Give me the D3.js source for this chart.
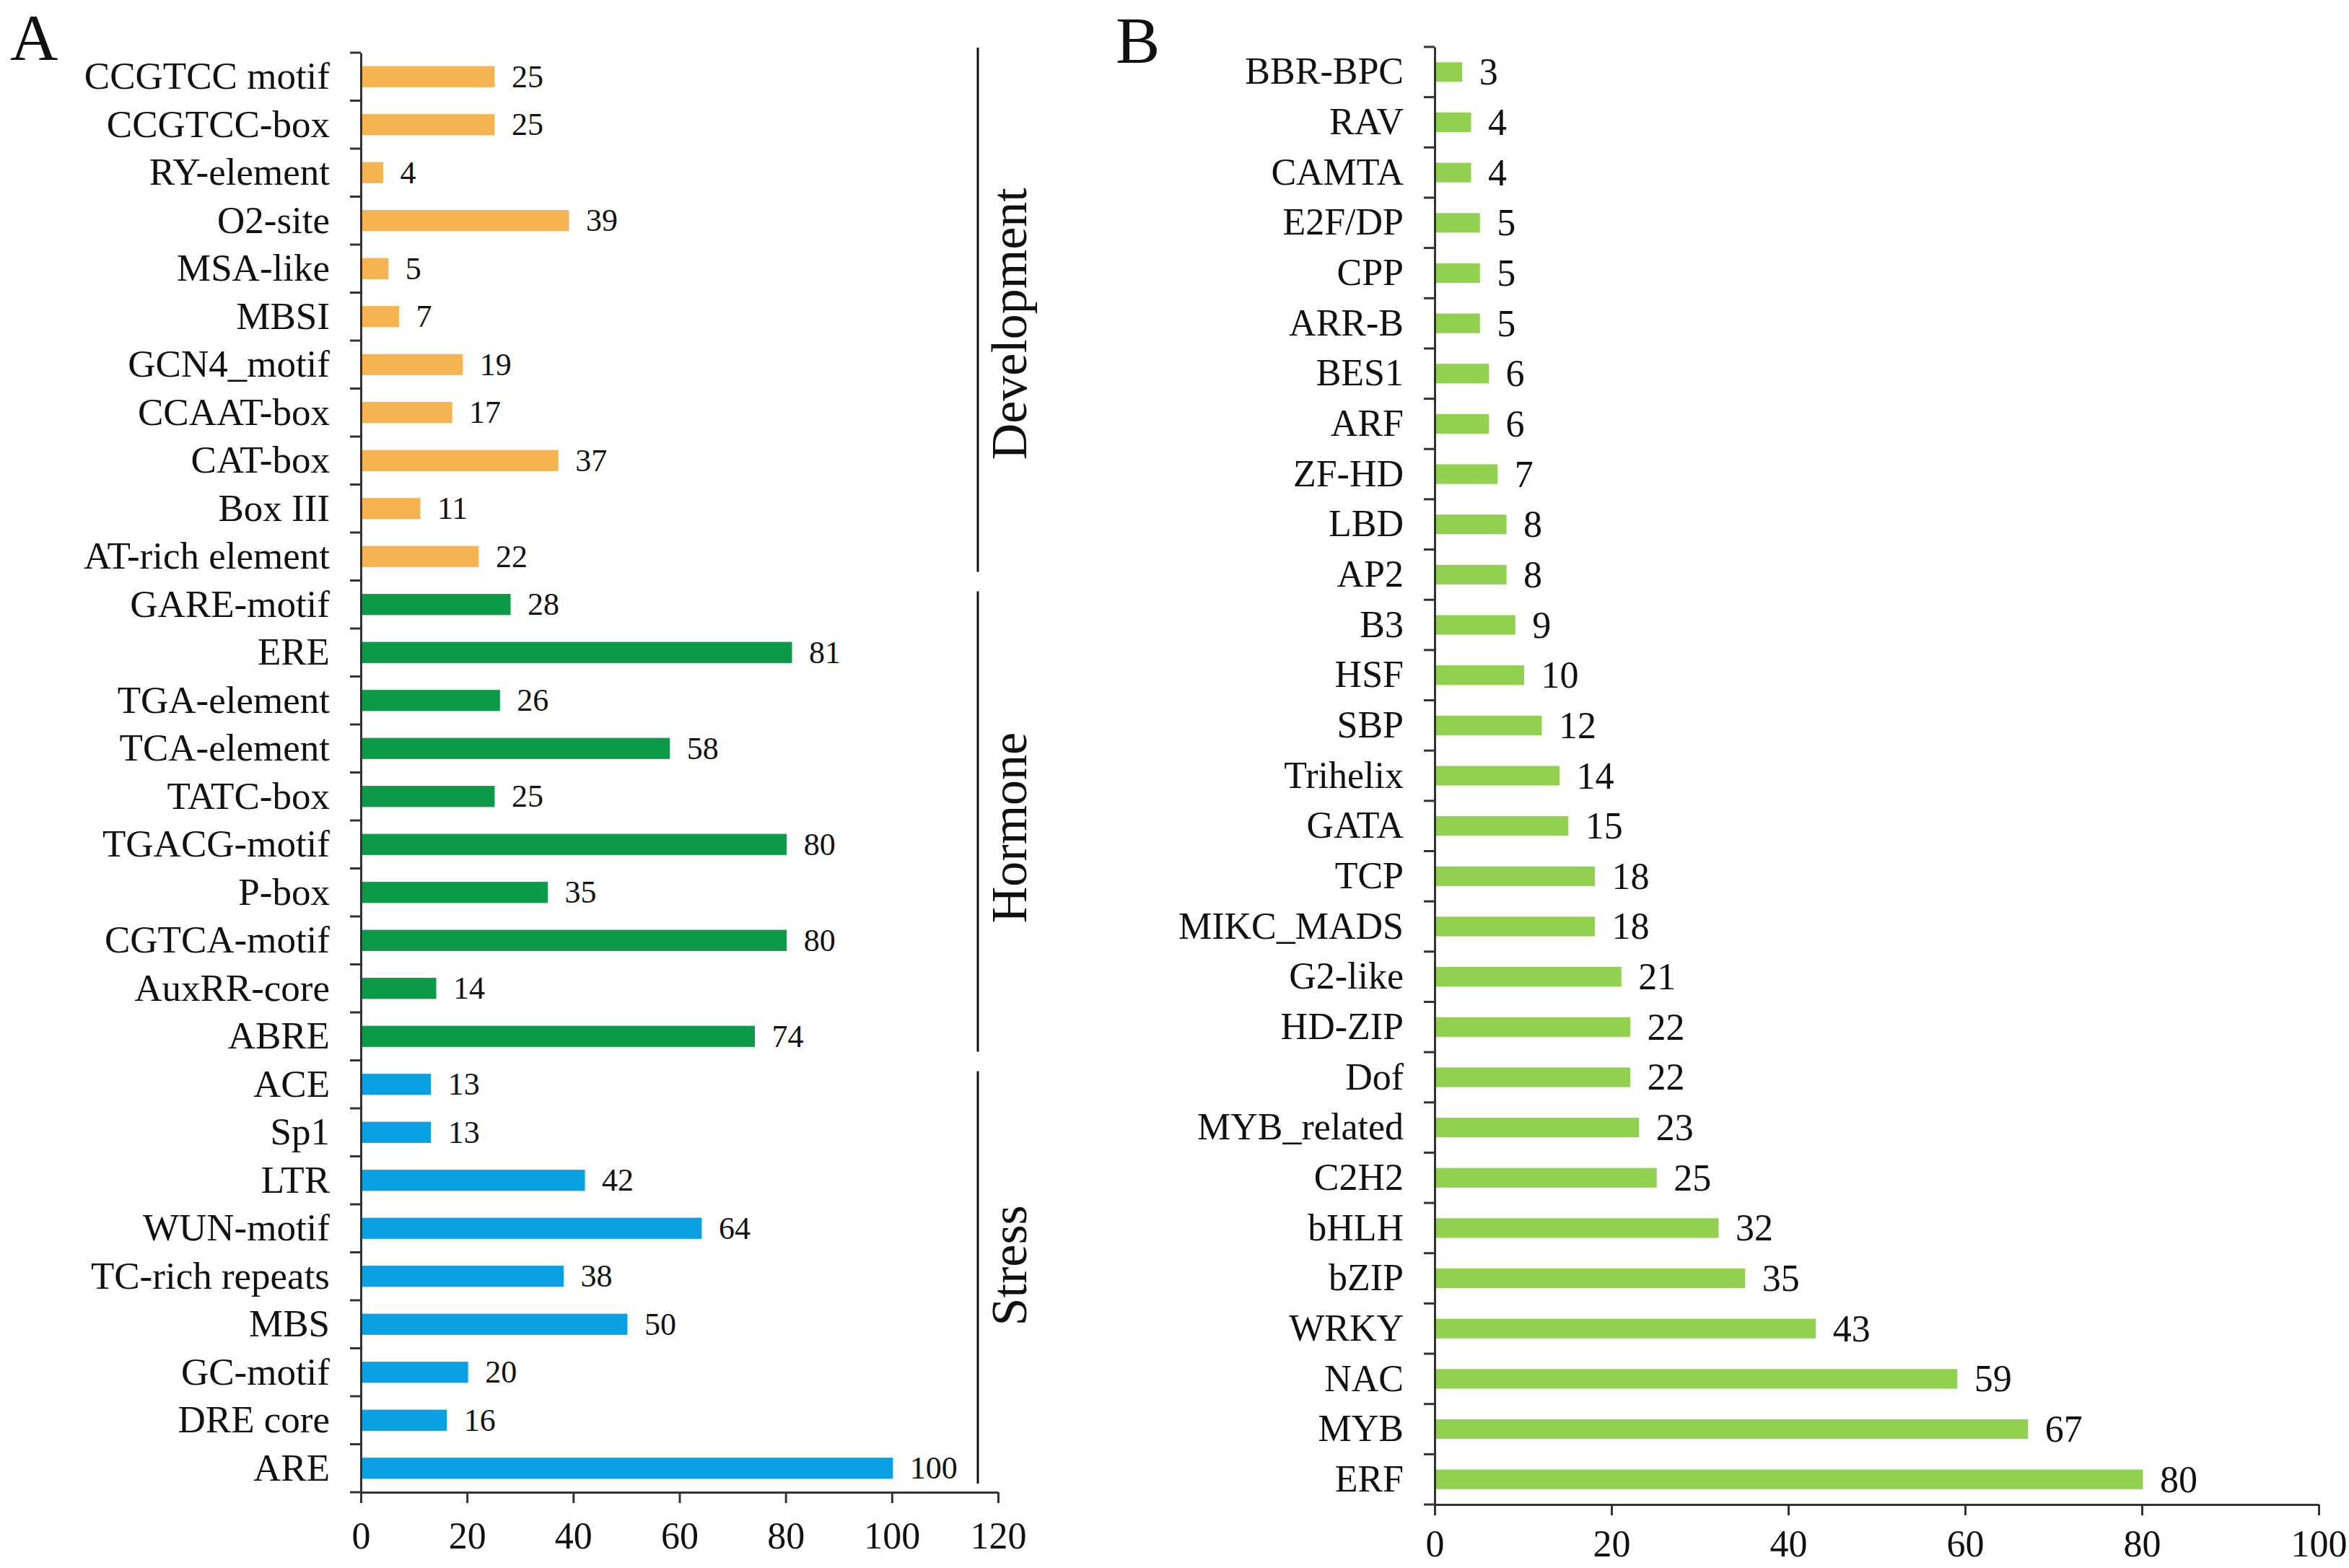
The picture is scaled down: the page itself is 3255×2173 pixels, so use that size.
<!DOCTYPE html>
<html lang="en">
<head>
  <meta charset="UTF-8">
  <title>Cis-elements and TF families</title>
  <script src="https://d3js.org/d3.v7.min.js"></script>
  <style>
    body { margin: 0; background: #fff; }
    text { font-family: "Liberation Serif", "Times New Roman", serif; fill: #111; }
    .domain, .tick line, .bound { stroke: #333; stroke-width: 3; }
  </style>
</head>
<body>
<div id="chart"></div>
<script>
  // Panel A: cis-acting elements, grouped by function
  const devNames = ["CCGTCC motif", "CCGTCC-box", "RY-element", "O2-site", "MSA-like", "MBSI",
    "GCN4_motif", "CCAAT-box", "CAT-box", "Box III", "AT-rich element"];
  const devValues = [25, 25, 4, 39, 5, 7, 19, 17, 37, 11, 22];
  const hormoneNames = ["GARE-motif", "ERE", "TGA-element", "TCA-element", "TATC-box",
    "TGACG-motif", "P-box", "CGTCA-motif", "AuxRR-core", "ABRE"];
  const hormoneValues = [28, 81, 26, 58, 25, 80, 35, 80, 14, 74];
  const stressNames = ["ACE", "Sp1", "LTR", "WUN-motif", "TC-rich repeats", "MBS", "GC-motif",
    "DRE core", "ARE"];
  const stressValues = [13, 13, 42, 64, 38, 50, 20, 16, 100];
  const groupNames = ["Development", "Hormone", "Stress"];
  const groupColors = ["#F5B351", "#0C9A48", "#0BA0E2"];
  const ticksA = [0, 20, 40, 60, 80, 100, 120];

  // Panel B: transcription factor families
  const tfNames = ["BBR-BPC", "RAV", "CAMTA", "E2F/DP", "CPP", "ARR-B", "BES1", "ARF", "ZF-HD",
    "LBD", "AP2", "B3", "HSF", "SBP", "Trihelix", "GATA", "TCP", "MIKC_MADS", "G2-like", "HD-ZIP",
    "Dof", "MYB_related", "C2H2", "bHLH", "bZIP", "WRKY", "NAC", "MYB", "ERF"];
  const tfValues = [3, 4, 4, 5, 5, 5, 6, 6, 7, 8, 8, 9, 10, 12, 14, 15, 18, 18, 21, 22, 22, 23,
    25, 32, 35, 43, 59, 67, 80];
  const ticksB = [0, 20, 40, 60, 80, 100];

  const W = 3255, H = 2173;
  const svg = d3.select("#chart").append("svg")
    .attr("width", W).attr("height", H);

  // build rows for A
  const groups = [devNames, hormoneNames, stressNames];
  const groupVals = [devValues, hormoneValues, stressValues];
  const rowsA = [];
  groups.forEach((names, g) => {
    names.forEach((n, i) => rowsA.push({ name: n, value: groupVals[g][i], group: g }));
  });
  const rowsB = tfNames.map((n, i) => ({ name: n, value: tfValues[i] }));

  function drawPanel(opts) {
    const { rows, left, right, top, bottom, max, ticks, pad, tickFont, tickPad, catFont, valFont, color } = opts;
    const x = d3.scaleLinear().domain([0, max]).range([left, right]);
    const y = d3.scaleBand()
      .domain(rows.map(d => d.name))
      .range([top, bottom])
      .paddingInner(pad).paddingOuter(pad / 2);
    const g = svg.append("g");

    // bars
    g.selectAll("rect").data(rows).enter().append("rect")
      .attr("x", x(0) + 1.5)
      .attr("y", d => y(d.name))
      .attr("width", d => x(d.value) - x(0))
      .attr("height", y.bandwidth())
      .attr("fill", color);

    // value labels
    g.selectAll(".val").data(rows).enter().append("text")
      .attr("class", "val")
      .attr("x", d => x(d.value) + 25)
      .attr("y", d => y(d.name) + y.bandwidth() / 2)
      .attr("dominant-baseline", "central")
      .style("font-size", valFont + "px")
      .text(d => d.value);

    // x axis
    g.append("g")
      .attr("transform", `translate(0,${bottom})`)
      .call(d3.axisBottom(x).tickValues(ticks).tickSize(15).tickSizeOuter(0).tickPadding(tickPad))
      .call(a => a.selectAll("text").style("font-size", tickFont + "px")
        .style("font-family", "'Liberation Serif', serif").attr("fill", "#111"));

    // y axis (labels only)
    g.append("g")
      .attr("transform", `translate(${left},0)`)
      .call(d3.axisLeft(y).tickSize(0).tickSizeOuter(0).tickPadding(43))
      .call(a => a.selectAll("text").style("font-size", catFont + "px")
        .style("font-family", "'Liberation Serif', serif").attr("fill", "#111"));

    // tick marks at band boundaries
    const bounds = d3.range(rows.length + 1).map(i => y.range()[0] + i * y.step());
    g.selectAll(".bound").data(bounds).enter().append("line")
      .attr("class", "bound")
      .attr("x1", left - 15).attr("x2", left)
      .attr("y1", d => d).attr("y2", d => d);

    return { x, y };
  }

  const A = drawPanel({
    rows: rowsA, left: 500, right: 1383, top: 73, bottom: 2068, max: 120, ticks: ticksA,
    pad: 0.56, tickFont: 52, tickPad: 26, catFont: 53, valFont: 44, color: d => groupColors[d.group]
  });

  drawPanel({
    rows: rowsB, left: 1988, right: 3213, top: 65, bottom: 2085, max: 100, ticks: ticksB,
    pad: 0.61, tickFont: 52, tickPad: 20, catFont: 52, valFont: 52, color: "#92D050"
  });

  // group brackets for panel A
  const lineX = 1355;
  let start = 0;
  groups.forEach((names, gi) => {
    const y0 = A.y.range()[0] + start * A.y.step();
    const y1 = y0 + names.length * A.y.step();
    const top = gi === 0 ? y0 - 7 : y0 + 15;
    const bot = y1 - 12;
    svg.append("line")
      .attr("x1", lineX).attr("x2", lineX)
      .attr("y1", top).attr("y2", bot)
      .attr("stroke", "#111").attr("stroke-width", 3);
    const cy = (y0 + y1) / 2 + (gi === 2 ? -15 : 10);
    svg.append("text")
      .attr("transform", `translate(1422,${cy}) rotate(-90)`)
      .attr("text-anchor", "middle")
      .style("font-size", "70px")
      .text(groupNames[gi]);
    start += names.length;
  });

  // panel letters
  svg.append("text").attr("x", 14).attr("y", 83).style("font-size", "92px").text("A");
  svg.append("text").attr("x", 1546).attr("y", 87).style("font-size", "92px").text("B");
</script>
</body>
</html>
